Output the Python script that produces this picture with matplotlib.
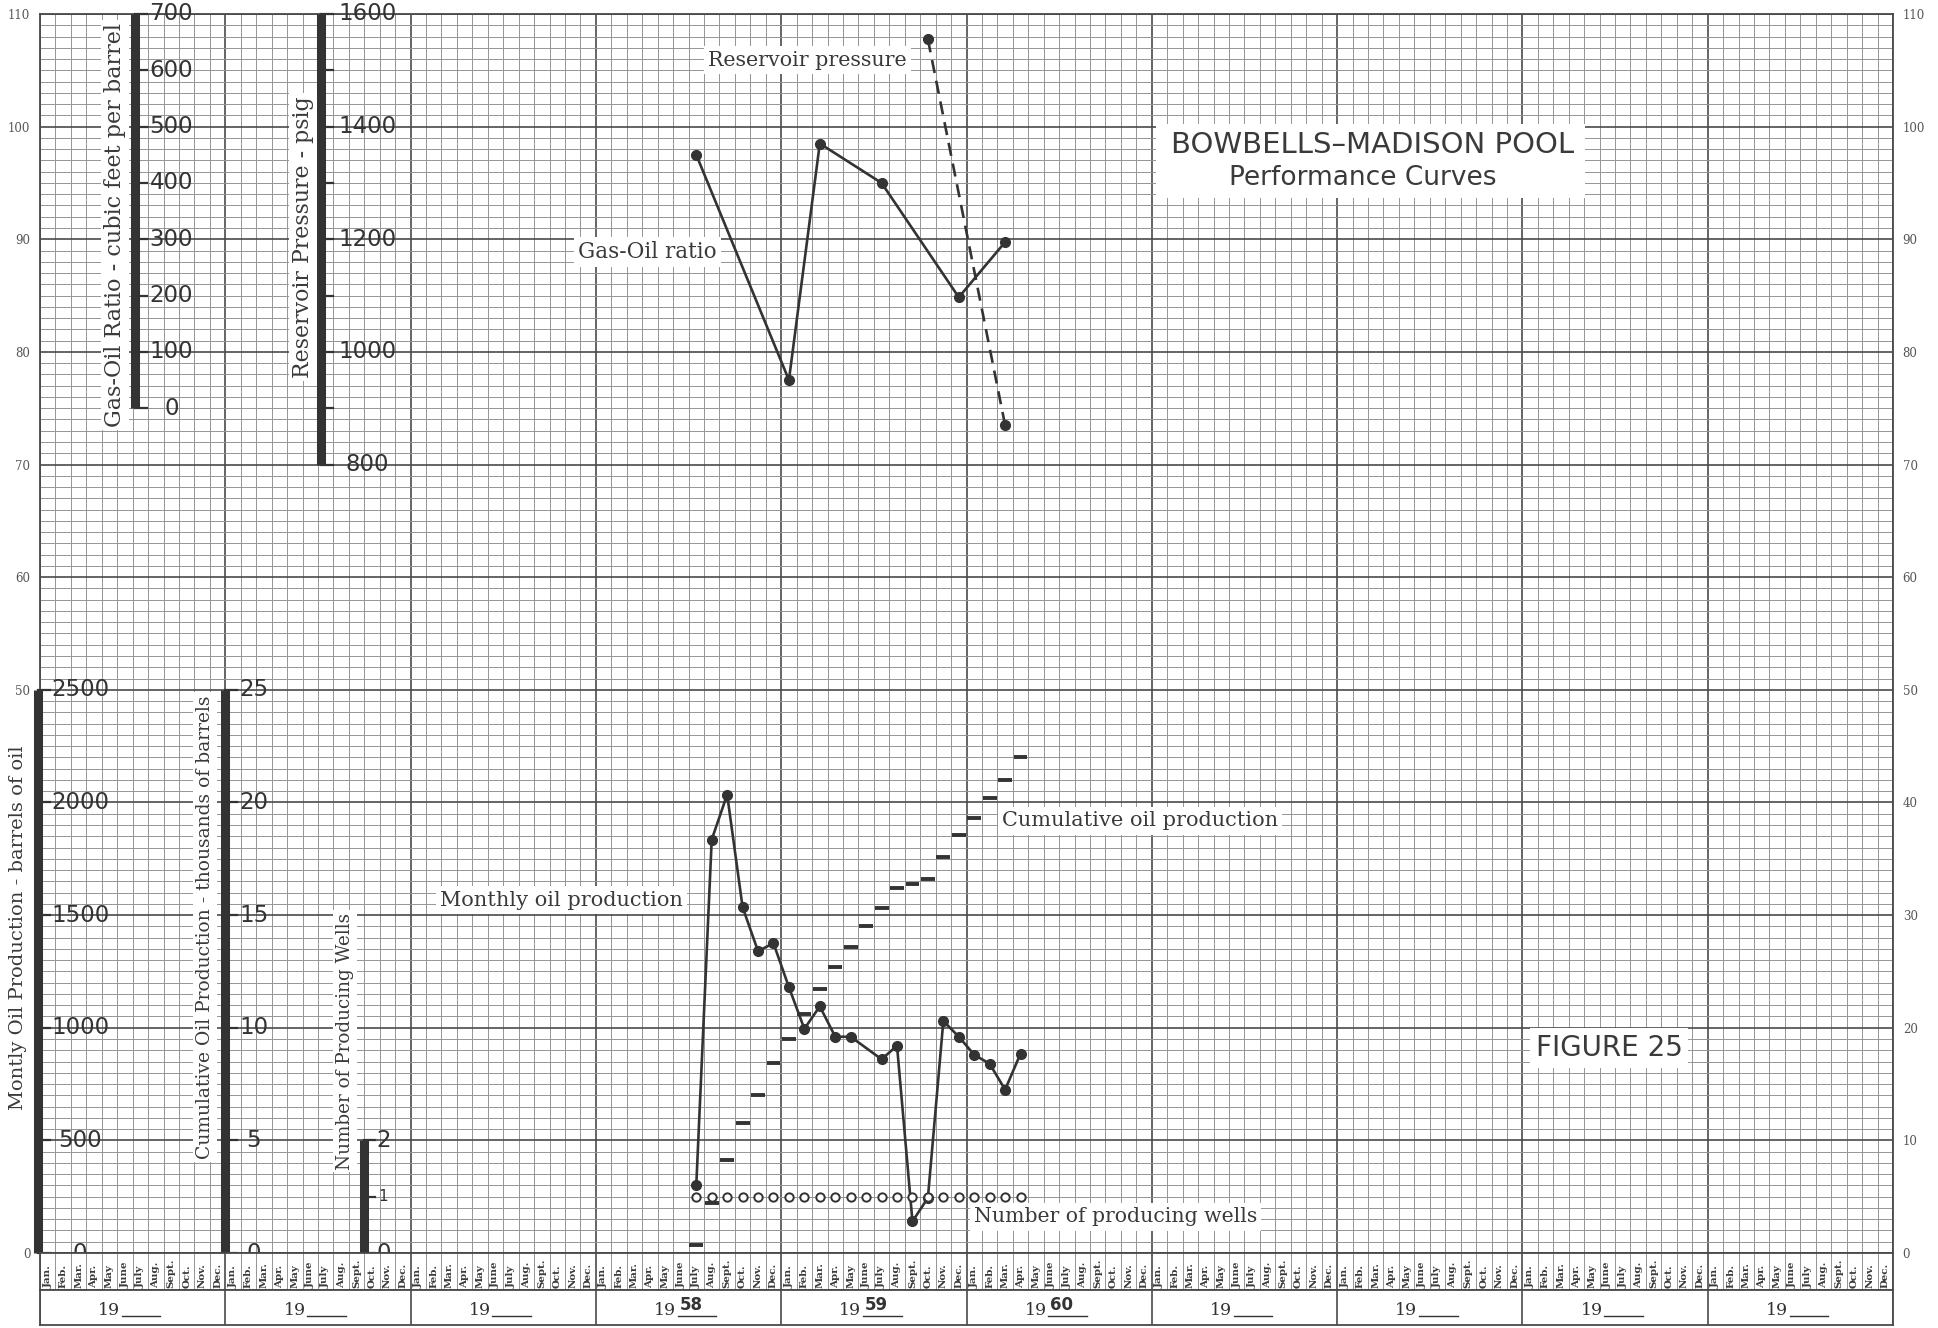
import matplotlib
matplotlib.use("Agg")
import matplotlib.pyplot as plt
import numpy as np
from matplotlib.patches import Rectangle

# ---------------- data ----------------
month_names = ["Jan.", "Feb.", "Mar.", "Apr.", "May", "June", "July",
               "Aug.", "Sept.", "Oct.", "Nov.", "Dec."]
first_year = 1955
year_suffix = ["", "", "", "58", "59", "60", "", "", "", ""]

oil_dates = ["1958-07", "1958-08", "1958-09", "1958-10", "1958-11", "1958-12",
             "1959-01", "1959-02", "1959-03", "1959-04", "1959-05",
             "1959-07", "1959-08", "1959-09", "1959-10", "1959-11", "1959-12",
             "1960-01", "1960-02", "1960-03", "1960-04"]
oil_bbl = [300, 1835, 2035, 1535, 1340, 1375,
           1180, 995, 1095, 960, 960,
           860, 920, 140, 245, 1030, 960,
           880, 840, 725, 885]

cum_dates = ["1958-07", "1958-08", "1958-09", "1958-10", "1958-11", "1958-12",
             "1959-01", "1959-02", "1959-03", "1959-04", "1959-05", "1959-06",
             "1959-07", "1959-08", "1959-09", "1959-10", "1959-11", "1959-12",
             "1960-01", "1960-02", "1960-03", "1960-04"]
cum_kbbl = [0.35, 2.2, 4.15, 5.75, 7.0, 8.45,
            9.5, 10.6, 11.7, 12.7, 13.6, 14.5,
            15.3, 16.2, 16.4, 16.6, 17.6, 18.55,
            19.3, 20.2, 21.0, 22.0]

wells_dates = cum_dates
wells_count = [1] * 22

gor_dates = ["1958-07", "1959-01", "1959-03", "1959-07", "1959-12", "1960-03"]
gor_cfb = [450, 50, 470, 400, 197, 295]

pres_dates = ["1959-10", "1960-03"]
pres_psig = [1555, 870]

# scales (value ticks)
oil_ticks = [0, 500, 1000, 1500, 2000, 2500]
cum_ticks = [0, 5, 10, 15, 20, 25]
wells_ticks = [0, 1, 2]
gor_ticks = [0, 100, 200, 300, 400, 500, 600, 700]
pres_ticks = [800, 1000, 1200, 1400, 1600]
pres_minor = [900, 1100, 1300, 1500]
grid_ticks = list(range(0, 111, 10))
left_grid_labels = ["0", "", "", "", "", "50", "60", "70", "80", "90", "100", "110"]
right_grid_labels = [str(v) for v in grid_ticks]

# conversions to the chart's 0-110 grid
def u_oil(v): return v / 50.0
def u_cum(v): return v / 0.5
def u_wells(v): return v * 5.0
def u_gor(v): return 75 + v / 20.0
def u_pres(v): return 70 + (v - 800) / 20.0

def mi(d):
    y, m = d.split("-")
    return (int(y) - first_year) * 12 + (int(m) - 1)

# ---------------- figure ----------------
W, H = 1938, 1328
fig = plt.figure(figsize=(W / 100, H / 100), dpi=100)
fig.patch.set_facecolor("white")
L, R, T, B = 40, 1893, 14, 1253
MB, YB = 1290, 1325

INK = "#333333"
GRID_MINOR = "#949494"
GRID_MAJOR = "#4a4a4a"
SERIF = "DejaVu Serif"

ax = fig.add_axes([L / W, 1 - B / H, (R - L) / W, (B - T) / H])
ax.set_xlim(0, 120)
ax.set_ylim(0, 110)
ax.set_xticks(np.arange(0, 121, 12))
ax.set_xticks(np.arange(0, 121, 1), minor=True)
ax.set_yticks(grid_ticks)
ax.set_yticklabels(left_grid_labels, family=SERIF, fontsize=8.5, color="#555555")
ax.set_yticks(np.arange(0, 111, 1), minor=True)
ax.grid(which="minor", color=GRID_MINOR, lw=0.7)
ax.grid(which="major", color=GRID_MAJOR, lw=1.2)
ax.set_axisbelow(True)
ax.tick_params(which="both", length=0)
ax.tick_params(axis="x", labelbottom=False)
ax.tick_params(axis="y", pad=7)
for s in ax.spines.values():
    s.set_color(GRID_MAJOR)
    s.set_linewidth(1.3)

axr = ax.twinx()
axr.set_ylim(0, 110)
axr.set_yticks(grid_ticks)
axr.set_yticklabels(right_grid_labels, family=SERIF, fontsize=8.5, color="#555555")
axr.tick_params(length=0, pad=7)
for s in axr.spines.values():
    s.set_visible(False)

# month band
axm = fig.add_axes([L / W, 1 - MB / H, (R - L) / W, (MB - B) / H])
axm.set_xlim(0, 120)
axm.set_ylim(0, 1)
axm.set_xticks(np.arange(0, 121, 12))
axm.set_xticks(np.arange(0, 121, 1), minor=True)
axm.set_yticks([])
axm.grid(axis="x", which="minor", color=GRID_MINOR, lw=0.7)
axm.grid(axis="x", which="major", color=GRID_MAJOR, lw=1.2)
axm.tick_params(which="both", length=0, labelbottom=False)
for s in axm.spines.values():
    s.set_color(GRID_MAJOR)
    s.set_linewidth(1.3)
for m in range(120):
    axm.text(m + 0.5, 0.05, month_names[m % 12], rotation=90, ha="center",
             va="bottom", fontsize=7.4, family=SERIF, weight="bold",
             color="#3a3a3a")

# year band
axy = fig.add_axes([L / W, 1 - YB / H, (R - L) / W, (YB - MB) / H])
axy.set_xlim(0, 120)
axy.set_ylim(0, 1)
axy.set_xticks(np.arange(0, 121, 12))
axy.set_yticks([])
axy.grid(axis="x", which="major", color=GRID_MAJOR, lw=1.2)
axy.tick_params(which="both", length=0, labelbottom=False)
for s in axy.spines.values():
    s.set_color(GRID_MAJOR)
    s.set_linewidth(1.3)
for i, suf in enumerate(year_suffix):
    xc = 12 * i + 6
    axy.text(xc - 0.8, 0.42, "19", ha="right", va="center", fontsize=12.5,
             family=SERIF, color="#333333")
    axy.plot([xc - 0.7, xc + 1.8], [0.26, 0.26], color="#333333", lw=1.0)
    if suf:
        axy.text(xc - 0.6, 0.3, suf, ha="left", va="bottom", fontsize=12,
                 weight="bold", color="#333333")

# ---------------- scale bars ----------------
def draw_scale(xm, values, conv, label_x, minor=(), fs=16.5, small=()):
    u = [conv(v) for v in values]
    ax.plot([xm, xm], [min(u), max(u)], color=INK, lw=6.5,
            solid_capstyle="butt", clip_on=False, zorder=5)
    for v in list(values) + list(minor):
        uu = conv(v)
        ax.plot([xm, xm + 0.75], [uu, uu], color=INK, lw=1.6,
                clip_on=False, zorder=5)
    for v in values:
        ax.text(label_x, conv(v), str(v), ha="center", va="center",
                fontsize=(11 if v in small else fs), color="#333333",
                zorder=6, clip_on=False)

draw_scale(-0.12, oil_ticks, u_oil, 2.6)
draw_scale(12.0, cum_ticks, u_cum, 13.85)
draw_scale(20.95, wells_ticks, u_wells, 22.25, small=(1,))
draw_scale(6.15, gor_ticks, u_gor, 8.5)
draw_scale(18.2, pres_ticks, u_pres, 21.2, minor=pres_minor)

# axis titles (rotated)
box = dict(facecolor="white", edgecolor="none", pad=2)
def vtitle(px, py, s, fs):
    fig.text(px / W, 1 - py / H, s, rotation=90, ha="center", va="center",
             fontsize=fs, family=SERIF, color="#3a3a3a", bbox=box, zorder=6)

vtitle(18, 928, "Montly Oil Production - barrels of oil", 14)
vtitle(205, 927, "Cumulative Oil Production - thousands of barrels", 13.5)
vtitle(345, 1041, "Number of Producing Wells", 13.2)
vtitle(115, 225, "Gas-Oil Ratio - cubic feet per barrel", 16)
vtitle(303, 237, "Reservoir Pressure - psig", 15.8)

# ---------------- data marks ----------------
ox = [mi(d) + 0.5 for d in oil_dates]
ax.plot(ox, [u_oil(v) for v in oil_bbl], color=INK, lw=1.9, marker="o",
        ms=7, zorder=7)

cx = np.array([mi(d) for d in cum_dates])
ax.hlines([u_cum(v) for v in cum_kbbl], cx + 0.05, cx + 0.95, color=INK,
          lw=2.8, zorder=7)

wx = [mi(d) + 0.5 for d in wells_dates]
ax.plot(wx, [u_wells(v) for v in wells_count], ls="none", marker="o", ms=6,
        mfc="white", mec=INK, mew=1.4, zorder=8)

gx = [mi(d) + 0.5 for d in gor_dates]
ax.plot(gx, [u_gor(v) for v in gor_cfb], color=INK, lw=1.9, marker="o",
        ms=7, zorder=7)

px_ = [mi(d) + 0.5 for d in pres_dates]
ax.plot(px_, [u_pres(v) for v in pres_psig], color=INK, lw=1.9,
        ls=(0, (5, 3)), marker="o", ms=7, zorder=7)

# ---------------- annotations ----------------
def note(px, py, s, fs):
    fig.text(px / W, 1 - py / H, s, ha="left", va="center", fontsize=fs,
             family=SERIF, color="#3a3a3a",
             bbox=dict(facecolor="white", edgecolor="none", pad=3), zorder=6)

note(708, 60, "Reservoir pressure", 14.9)
note(578, 252, "Gas-Oil ratio", 15.5)
note(440, 900, "Monthly oil production", 15)
note(1002, 821, "Cumulative oil production", 15)
note(974, 1217, "Number of producing wells", 14.7)

fig.patches.append(Rectangle((1156 / W, 1 - 198 / H), (1585 - 1156) / W,
                             (198 - 124) / H, transform=fig.transFigure,
                             facecolor="white", edgecolor="none", zorder=5))
fig.text(1373 / W, 1 - 145 / H, "BOWBELLS\u2013MADISON POOL", ha="center",
         va="center", fontsize=21, color="#3a3a3a", zorder=6)
fig.text(1363 / W, 1 - 178 / H, "Performance Curves", ha="center",
         va="center", fontsize=19, color="#3a3a3a", zorder=6)
fig.text(1609 / W, 1 - 1048 / H, "FIGURE 25", ha="center", va="center",
         fontsize=20, color="#3a3a3a", zorder=6,
         bbox=dict(facecolor="white", edgecolor="none", pad=4))

fig.savefig("out.png", dpi=100, facecolor="white")
